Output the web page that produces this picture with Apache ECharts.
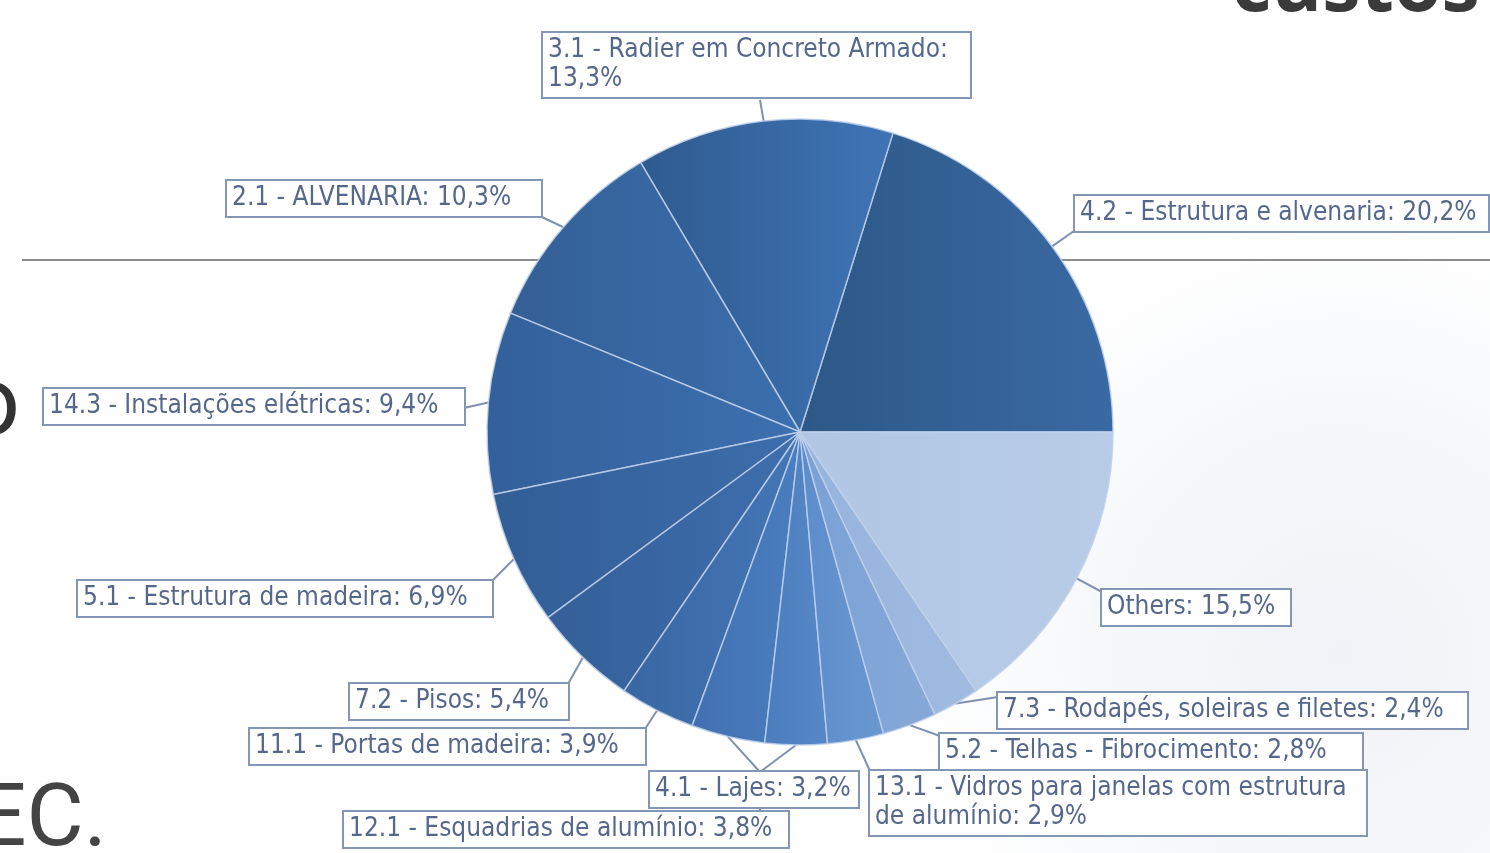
<!DOCTYPE html>
<html>
<head>
<meta charset="utf-8">
<script src="https://cdn.jsdelivr.net/npm/echarts@6/dist/echarts.min.js"></script>
<style>
html,body{margin:0;padding:0;background:#fff;}
#chart{width:1490px;height:853px;}
</style>
</head>
<body>
<div id="chart"></div>
<script>
// ---- data ----
const categories = [
  '4.2 - Estrutura e alvenaria',
  '3.1 - Radier em Concreto Armado',
  '2.1 - ALVENARIA',
  '14.3 - Instalações elétricas',
  '5.1 - Estrutura de madeira',
  '7.2 - Pisos',
  '11.1 - Portas de madeira',
  '12.1 - Esquadrias de alumínio',
  '4.1 - Lajes',
  '13.1 - Vidros para janelas com estrutura de alumínio',
  '5.2 - Telhas - Fibrocimento',
  '7.3 - Rodapés, soleiras e filetes',
  'Others'
];
const values = [20.2, 13.3, 10.3, 9.4, 6.9, 5.4, 3.9, 3.8, 3.2, 2.9, 2.8, 2.4, 15.5];

// ---- styles / layout (not data) ----
const sliceColors = [
  ['#2d5886', '#3a6aa4'],
  ['#2f5b8f', '#3f74b5'],
  ['#335f95', '#3c6fae'],
  ['#33609a', '#3d70b0'],
  ['#325e96', '#3d6dab'],
  ['#345f98', '#3f6fae'],
  ['#3a67a3', '#4476b6'],
  ['#4170b0', '#4a7ec0'],
  ['#4b7cbd', '#5789c8'],
  ['#5c8cca', '#6a98d0'],
  ['#7aa0d4', '#86a9d8'],
  ['#96b3dc', '#a0bbe0'],
  ['#b0c6e4', '#b8cce7']
];
// label box: top-left corner, outer width, leader bend/end points
const labelBoxes = [
  {x:1075, y:196, w:413, pts:[[1074,231],[1074,231]]},
  {x:543,  y:33,  w:427, pts:[[760,100],[760,100]]},
  {x:227,  y:181, w:314, pts:[[542,217],[542,217]]},
  {x:44,   y:389, w:420, pts:[[464,408],[464,408]]},
  {x:78,   y:581, w:414, pts:[[492,581],[492,581]]},
  {x:350,  y:684, w:218, pts:[[568,684],[568,684]]},
  {x:250,  y:729, w:395, pts:[[645,729],[645,729]]},
  {x:344,  y:812, w:444, pts:[[760,772],[760,812]]},
  {x:650,  y:772, w:208, pts:[[760,772],[760,772]]},
  {x:870,  y:771, w:496, pts:[[870,771],[870,771]]},
  {x:940,  y:734, w:422, pts:[[940,736],[940,736]]},
  {x:998,  y:693, w:469, pts:[[998,697],[998,697]]},
  {x:1102, y:590, w:188, pts:[[1102,592],[1102,592]]}
];
// where a label wraps onto a second line
const wrapBefore = {1: '13,3%', 9: 'de alumínio'};
const padL = 5, padR = 6;

const fmt = v => v.toFixed(1).replace('.', ',') + '%';

const seriesData = categories.map((name, i) => ({
  name: name,
  value: values[i],
  label: {width: labelBoxes[i].w - padL - padR},
  itemStyle: {
    color: {
      type: 'linear', x: 0, y: 0, x2: 1, y2: 0,
      colorStops: [{offset: 0, color: sliceColors[i][0]}, {offset: 1, color: sliceColors[i][1]}]
    }
  }
}));

const chart = echarts.init(document.getElementById('chart'), null, {renderer: 'canvas'});
const labelFont = "'Liberation Sans Narrow', 'DejaVu Sans Condensed', 'Roboto Condensed', sans-serif";

chart.setOption({
  backgroundColor: '#ffffff',
  animation: false,
  graphic: [
    {type: 'rect', z: -10, shape: {x: 900, y: 60, width: 590, height: 793},
      style: {fill: {type: 'radial', x: 0.75, y: 0.75, r: 0.75,
        colorStops: [{offset: 0, color: 'rgba(224,229,238,0.5)'}, {offset: 0.6, color: 'rgba(228,233,241,0.3)'}, {offset: 1, color: 'rgba(232,236,243,0)'}]}}},
    {type: 'line', z: -5, shape: {x1: 22, y1: 260, x2: 1490, y2: 260},
      style: {stroke: '#8c8c8c', lineWidth: 2}},
    {type: 'text', z: -5, style: {text: 'custos', x: 1232, y: -49,
      font: "bold 77px 'Open Sans', sans-serif", fill: '#3a3a3a'}},
    {type: 'text', z: -5, style: {text: 'o', x: 20, y: 362, textAlign: 'right',
      font: "96px Roboto, sans-serif", fill: '#333333'}},
    {type: 'text', z: -5, style: {text: 'EC.', x: 107, y: 779, textAlign: 'right',
      font: "88px Roboto, sans-serif", fill: '#444444'}}
  ],
  series: [{
    type: 'pie',
    center: [800, 432],
    radius: 313,
    startAngle: 0,
    clockwise: false,
    avoidLabelOverlap: false,
    itemStyle: {borderColor: 'rgba(190,208,235,0.85)', borderWidth: 1.5},
    emphasis: {disabled: true},
    label: {
      show: true,
      formatter: p => {
        const t = p.name + ': ' + fmt(p.value);
        const w = wrapBefore[p.dataIndex];
        return w ? t.replace(' ' + w, '\n' + w) : t;
      },
      fontFamily: labelFont,
      fontSize: 26,
      lineHeight: 29,
      color: '#55688c',
      backgroundColor: '#ffffff',
      borderColor: '#8396b6',
      borderWidth: 2,
      overflow: 'none',
      padding: [3, padR, 3, padL]
    },
    labelLine: {show: true, lineStyle: {color: '#7f91b0', width: 2}},
    labelLayout: function (p) {
      const b = labelBoxes[p.dataIndex];
      const start = p.labelLinePoints ? p.labelLinePoints[0] : b.pts[0];
      return {
        x: b.x, y: b.y, align: 'left', verticalAlign: 'top',
        labelLinePoints: [start, b.pts[0], b.pts[1]]
      };
    },
    data: seriesData
  }]
});
</script>
</body>
</html>
